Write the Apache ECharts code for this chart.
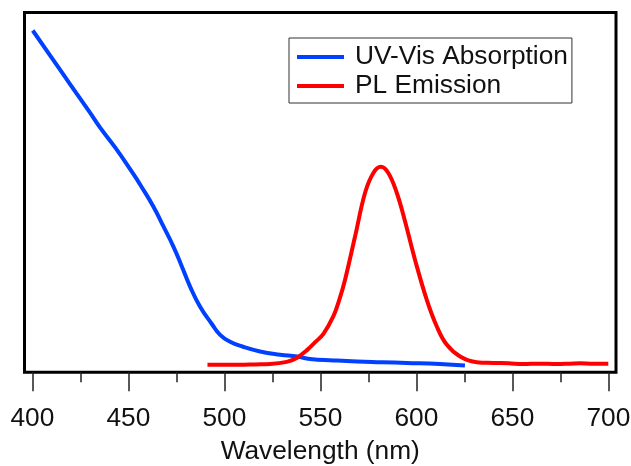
<!DOCTYPE html>
<html>
<head>
<meta charset="utf-8">
<script src="https://cdn.jsdelivr.net/npm/echarts@6/dist/echarts.min.js"></script>
<style>
  html, body { margin: 0; padding: 0; background: #fff; }
  #chart { width: 631px; height: 466px; }
</style>
</head>
<body>
<div id="chart"></div>
<script>
// UV-Vis absorption (wavelength nm, normalized intensity)
var absWavelength = [400.2, 409.2, 419.6, 430.1, 435.3, 443.1, 452.4, 456.1, 463.0, 468.2, 473.4, 477.8, 482.1, 487.3, 493.4, 497.8, 503.0, 509.7, 518.6, 529.0, 537.9, 544.6, 557.0, 569.1, 582.0, 595.1, 612.3, 625.3];
var absValue = [0.950, 0.881, 0.801, 0.721, 0.680, 0.625, 0.553, 0.522, 0.461, 0.406, 0.350, 0.295, 0.239, 0.183, 0.135, 0.104, 0.085, 0.071, 0.058, 0.049, 0.044, 0.037, 0.033, 0.030, 0.028, 0.026, 0.023, 0.019];

// PL emission
var plWavelength = [491.2, 500, 508.2, 516, 523.8, 532.5, 537.7, 542.9, 547.2, 551.6, 556.8, 559.9, 562.9, 568.1, 573.3, 577.6, 581.5, 585.4, 589.8, 594.1, 599.3, 605.4, 610.6, 615.8, 622.8, 631.5, 640.1, 648, 655.7, 664, 673.1, 680, 685.3, 692, 700];
var plValue = [0.021, 0.021, 0.021, 0.022, 0.023, 0.029, 0.040, 0.061, 0.083, 0.107, 0.156, 0.202, 0.258, 0.378, 0.499, 0.554, 0.571, 0.554, 0.499, 0.420, 0.313, 0.202, 0.128, 0.077, 0.044, 0.028, 0.026, 0.025, 0.023, 0.024, 0.023, 0.024, 0.025, 0.024, 0.024];

// tick labels
var majorTicks = [400, 450, 500, 550, 600, 650, 700];
var minorTicks = [425, 475, 525, 575, 625, 675];

var seriesNames = ['UV-Vis Absorption', 'PL Emission'];

function zip(xs, ys) {
    var out = [];
    for (var i = 0; i < xs.length; i++) {
        out.push([xs[i], ys[i]]);
    }
    return out;
}

var chart = echarts.init(document.getElementById('chart'), null, { renderer: 'canvas' });
var font = 'Liberation Sans, Arial, sans-serif';
var xMin = 395.9, xMax = 704;

var option = {
    animation: false,
    backgroundColor: '#fff',
    textStyle: { fontFamily: font },
    grid: {
        left: 24.5, right: 15, top: 12.5, bottom: 93.7,
        outerBoundsMode: 'none',
        containLabel: false,
        show: true,
        borderColor: '#000',
        borderWidth: 3,
        backgroundColor: 'transparent'
    },
    legend: {
        data: seriesNames,
        orient: 'vertical',
        left: 289,
        top: 38,
        padding: [6, 4, 4, 8],
        itemGap: 3,
        icon: 'rect',
        itemWidth: 47,
        itemHeight: 4,
        borderColor: '#333',
        borderWidth: 1,
        textStyle: {
            fontSize: 26.3,
            lineHeight: 26,
            color: '#111',
            fontFamily: font,
            padding: [0, 0, 0, 6]
        }
    },
    xAxis: [
        {
            type: 'value',
            min: xMin,
            max: xMax,
            name: 'Wavelength (nm)',
            nameLocation: 'middle',
            nameGap: 66,
            nameTextStyle: { fontSize: 26.3, color: '#111', fontFamily: font },
            axisLine: { show: false },
            axisTick: {
                show: true,
                inside: false,
                length: 19,
                customValues: majorTicks,
                lineStyle: { color: '#222', width: 1.5 }
            },
            axisLabel: {
                show: true,
                customValues: majorTicks,
                margin: 33,
                fontSize: 26.3,
                color: '#111',
                fontFamily: font
            },
            splitLine: { show: false }
        },
        {
            type: 'value',
            min: xMin,
            max: xMax,
            position: 'bottom',
            axisLine: { show: false },
            axisTick: {
                show: true,
                inside: false,
                length: 10,
                customValues: minorTicks,
                lineStyle: { color: '#222', width: 1.5 }
            },
            axisLabel: { show: false },
            splitLine: { show: false }
        }
    ],
    yAxis: {
        type: 'value',
        min: 0,
        max: 1,
        axisLine: { show: false },
        axisTick: { show: false },
        axisLabel: { show: false },
        splitLine: { show: false }
    },
    series: [
        {
            name: seriesNames[0],
            type: 'line',
            data: zip(absWavelength, absValue),
            showSymbol: false,
            smooth: 0.5,
            color: '#0040ff',
            lineStyle: { color: '#0040ff', width: 4 }
        },
        {
            name: seriesNames[1],
            type: 'line',
            data: zip(plWavelength, plValue),
            showSymbol: false,
            smooth: 0.4,
            color: '#ff0000',
            lineStyle: { color: '#ff0000', width: 4 }
        }
    ]
};

chart.setOption(option);
</script>
</body>
</html>
